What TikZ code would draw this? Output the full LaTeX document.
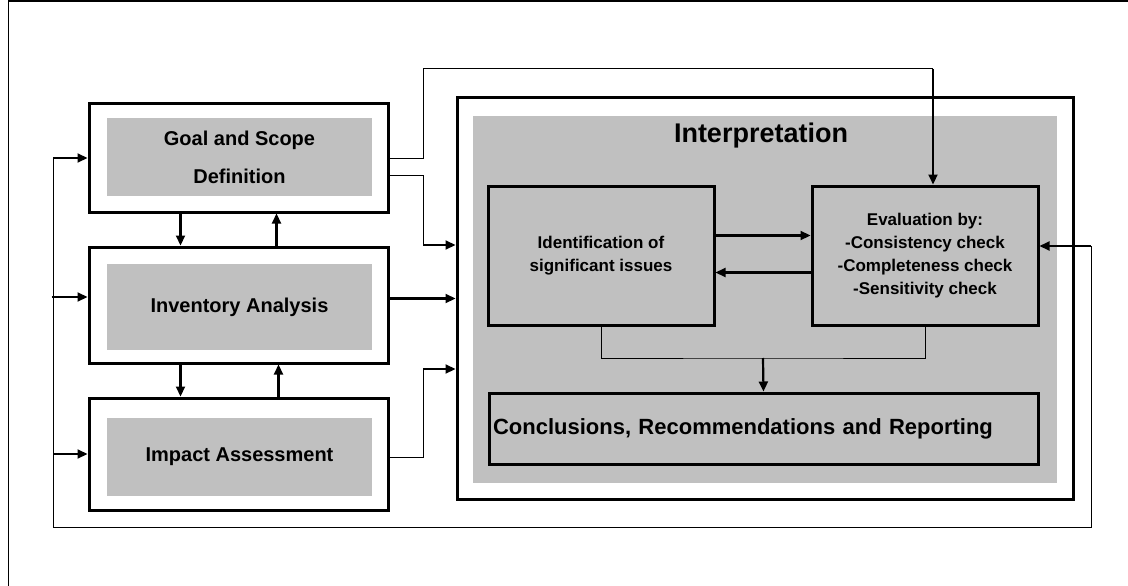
\documentclass[tikz,border=0pt]{standalone}
\usepackage{fontspec}
\setmainfont{Liberation Sans}
\usepackage{tikz}
\usetikzlibrary{arrows.meta, positioning}
\definecolor{boxgray}{HTML}{C0C0C0}

\begin{document}
\begin{tikzpicture}[
  x=1pt, y=-1pt,
  frame/.style={draw, line width=3pt, fill=white, inner sep=0pt},
  panel/.style={fill=boxgray, inner sep=0pt, align=center, font=\bfseries\fontsize{20}{38}\selectfont},
  innerbox/.style={draw, line width=3pt, fill=boxgray, inner sep=0pt, align=center, font=\bfseries\fontsize{17}{23}\selectfont},
  arrow/.style={-{Triangle[length=10pt,width=9pt]}, line width=2.2pt},
  link/.style={line width=1pt}
]
\useasboundingbox (0,0) rectangle (1128,586);

% page frame
\draw[line width=1.5pt] (1128,1) -- (8.5,1) -- (8.5,586);

% left column
\node[frame, minimum width=299pt, minimum height=108pt] (goal) at (238.5,158) {};
\node[panel, minimum width=265pt, minimum height=78pt] (goalin) at (239.5,157) {Goal and Scope\\Definition};
\node[frame, minimum width=299pt, minimum height=116pt] (inv) at (238.5,305) {};
\node[panel, minimum width=265pt, minimum height=86pt] (invin) at (239.5,307) {Inventory Analysis};
\node[frame, minimum width=299pt, minimum height=112pt] (imp) at (238.5,454) {};
\node[panel, minimum width=265pt, minimum height=78pt] (impin) at (239.5,457) {Impact Assessment};

% interpretation block
\node[frame, minimum width=616pt, minimum height=401pt] (interp) at (765,298.5) {};
\node[fill=boxgray, inner sep=0pt, minimum width=584pt, minimum height=367pt] (interpin) at (765,299.5) {};
\node[font=\bfseries\fontsize{27}{30}\selectfont] (title) at (761,136) {Interpretation};
\node[innerbox, minimum width=226pt, minimum height=139pt] (ident) at (601,255.5) {Identification of\\significant issues};
\node[innerbox, minimum width=226pt, minimum height=139pt] (evalbox) at (925,255.5) {Evaluation by:\\-Consistency check\\-Completeness check\\-Sensitivity check};
\node[innerbox, text width=541pt, inner xsep=4pt, minimum height=71pt, align=left, font=\bfseries\fontsize{22}{26}\selectfont] (concl) at (763.5,428.5) {Conclusions, Recommendations and Reporting};

% corners of the connectors
\coordinate (jl) at (423,69);
\coordinate (jr) at (933,69);
\coordinate (gl) at (423,245);
\coordinate (il) at (423,369);
\coordinate (mrg) at (763,358);
\coordinate (fbl) at (53,527);
\coordinate (fbt) at (1091,246);

% between the left boxes
\draw[arrow] ([xshift=-58pt]goal.south) -- ([xshift=-58pt]inv.north);
\draw[arrow] ([xshift=38pt]inv.north) -- ([xshift=38pt]goal.south);
\draw[arrow] ([xshift=-58pt]inv.south) -- ([xshift=-58pt]imp.north);
\draw[arrow] ([xshift=40pt]imp.north) -- ([xshift=40pt]inv.south);

% left column to interpretation
\draw[link] (goal.east) -| (jl) -- (jr);
\draw[arrow] (jr) -- (jr |- evalbox.north);
\draw[link] ([yshift=-17pt]goal.east) -| (gl);
\draw[arrow] (gl) -- (gl -| interp.west);
\draw[arrow] (inv.east |- interp.west) -- (interp.west);
\draw[link] ([yshift=-3pt]imp.east) -| (il);
\draw[arrow] (il) -- (il -| interp.west);

% inside interpretation
\draw[arrow] ([yshift=20pt]ident.east) -- ([yshift=20pt]evalbox.west);
\draw[arrow] ([yshift=-17pt]evalbox.west) -- ([yshift=-17pt]ident.east);
\draw[link] (ident.south) |- (mrg) -| (evalbox.south);
\draw[arrow] (mrg) -- (concl.north);

% feedback loop
\draw[link] (fbl |- goal.west) -- (fbl) -| (fbt);
\draw[arrow] (fbt) -- (fbt -| evalbox.east);
\draw[arrow] (fbl |- goal.west) -- (goal.west);
\draw[arrow] ([xshift=-36pt,yshift=8pt]inv.west) -- ([yshift=8pt]inv.west);
\draw[arrow] (fbl |- imp.west) -- (imp.west);

\end{tikzpicture}
\end{document}
